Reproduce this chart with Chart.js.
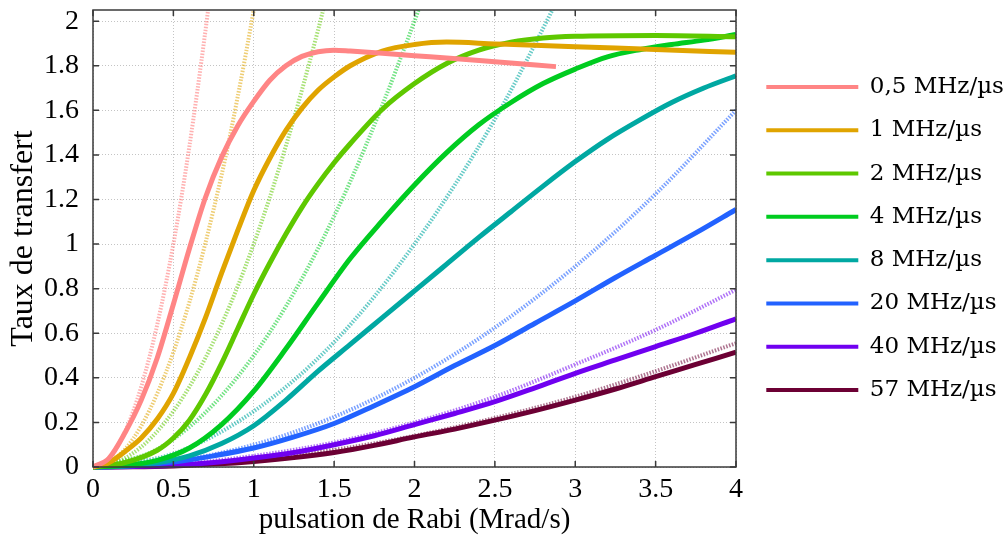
<!DOCTYPE html>
<html>
<head>
<meta charset="utf-8">
<script src="https://cdn.jsdelivr.net/npm/chart.js@4.4.1/dist/chart.umd.min.js"></script>
<style>
  html, body { margin: 0; padding: 0; background: #fff; }
</style>
</head>
<body>
<canvas id="rabiChart" width="1006" height="542"></canvas>
<script>
// sweep rates (legend)
const rateLabels = ['0,5 MHz/µs', '1 MHz/µs', '2 MHz/µs', '4 MHz/µs', '8 MHz/µs', '20 MHz/µs', '40 MHz/µs', '57 MHz/µs'];

// axis ticks
const xTicks = [0, 0.5, 1, 1.5, 2, 2.5, 3, 3.5, 4];
const yTicks = [0, 0.2, 0.4, 0.6, 0.8, 1, 1.2, 1.4, 1.6, 1.8, 2];

// solid curves: transfer rate vs Rabi pulsation
const x05 = [0, 0.1, 0.2, 0.3, 0.4, 0.5, 0.6, 0.7, 0.8, 0.9, 1.0, 1.1, 1.2, 1.3, 1.4, 1.5, 1.6, 1.8, 2.0, 2.2, 2.5, 2.88];
const y05 = [0, 0.04, 0.155, 0.30, 0.49, 0.73, 0.98, 1.21, 1.39, 1.53, 1.64, 1.735, 1.80, 1.842, 1.863, 1.87, 1.866, 1.856, 1.845, 1.835, 1.818, 1.796];

const x1 = [0, 0.1, 0.2, 0.3, 0.4, 0.5, 0.6, 0.7, 0.8, 0.9, 1.0, 1.1, 1.2, 1.3, 1.4, 1.5, 1.6, 1.8, 2.0, 2.2, 2.5, 3.0, 3.5, 4.0];
const y1 = [0, 0.02, 0.07, 0.13, 0.215, 0.33, 0.49, 0.67, 0.87, 1.06, 1.24, 1.385, 1.51, 1.61, 1.69, 1.75, 1.80, 1.866, 1.895, 1.906, 1.898, 1.885, 1.873, 1.86];

const x2 = [0, 0.2, 0.4, 0.5, 0.6, 0.7, 0.8, 0.9, 1.0, 1.1, 1.2, 1.3, 1.4, 1.5, 1.6, 1.8, 2.0, 2.2, 2.4, 2.6, 2.8, 3.0, 3.5, 4.0];
const y2 = [0, 0.02, 0.075, 0.13, 0.21, 0.325, 0.465, 0.62, 0.775, 0.915, 1.045, 1.165, 1.27, 1.365, 1.45, 1.605, 1.72, 1.81, 1.87, 1.905, 1.924, 1.932, 1.936, 1.93];

const x4 = [0, 0.2, 0.4, 0.6, 0.8, 1.0, 1.2, 1.4, 1.6, 1.8, 2.0, 2.2, 2.4, 2.6, 2.8, 3.0, 3.2, 3.4, 3.6, 3.8, 4.0];
const y4 = [0, 0.008, 0.03, 0.085, 0.19, 0.34, 0.53, 0.735, 0.935, 1.105, 1.265, 1.41, 1.535, 1.635, 1.72, 1.785, 1.84, 1.872, 1.895, 1.915, 1.94];

const x8 = [0, 0.2, 0.4, 0.6, 0.8, 1.0, 1.2, 1.4, 1.6, 1.8, 2.0, 2.2, 2.4, 2.6, 2.8, 3.0, 3.2, 3.4, 3.6, 3.8, 4.0];
const y8 = [0, 0.005, 0.02, 0.05, 0.105, 0.185, 0.30, 0.43, 0.55, 0.67, 0.79, 0.91, 1.03, 1.145, 1.26, 1.37, 1.47, 1.556, 1.635, 1.70, 1.755];

const xHigh = [0, 0.25, 0.5, 0.75, 1.0, 1.25, 1.5, 1.75, 2.0, 2.25, 2.5, 2.75, 3.0, 3.25, 3.5, 3.75, 4.0];
const y20 = [0, 0.006, 0.022, 0.05, 0.085, 0.135, 0.195, 0.275, 0.36, 0.455, 0.545, 0.645, 0.745, 0.85, 0.95, 1.05, 1.155];
const y40 = [0, 0.002, 0.008, 0.02, 0.04, 0.065, 0.10, 0.14, 0.19, 0.24, 0.293, 0.355, 0.42, 0.48, 0.54, 0.60, 0.665];
const y57 = [0, 0.001, 0.005, 0.013, 0.025, 0.042, 0.065, 0.097, 0.135, 0.17, 0.21, 0.253, 0.30, 0.35, 0.405, 0.46, 0.515];

// dotted curves (low-pulsation approximation)
const x05d = [0, 0.1, 0.2, 0.3, 0.4, 0.5, 0.6, 0.7, 0.75];
const y05d = [0, 0.04, 0.16, 0.36, 0.64, 1.0, 1.44, 1.96, 2.25];
const x1d = [0, 0.2, 0.4, 0.6, 0.8, 0.9, 1.0, 1.06];
const y1d = [0, 0.08, 0.33, 0.74, 1.31, 1.66, 2.05, 2.3];
const x2d = [0, 0.2, 0.4, 0.6, 0.8, 1.0, 1.2, 1.4, 1.5];
const y2d = [0, 0.04, 0.16, 0.36, 0.64, 1.0, 1.44, 1.96, 2.25];
const x4d = [0, 0.4, 0.8, 1.2, 1.6, 2.0, 2.12];
const y4d = [0, 0.08, 0.32, 0.72, 1.28, 2.0, 2.25];
const x8d = [0, 0.5, 1.0, 1.5, 2.0, 2.5, 3.0];
const y8d = [0, 0.06, 0.25, 0.56, 1.0, 1.56, 2.25];
const xHighd = [0, 0.5, 1.0, 1.5, 2.0, 2.5, 3.0, 3.5, 4.0];
const y20d = [0, 0.025, 0.1, 0.225, 0.4, 0.625, 0.9, 1.225, 1.6];
const y40d = [0, 0.012, 0.05, 0.11, 0.2, 0.315, 0.46, 0.615, 0.795];
const y57d = [0, 0.008, 0.035, 0.077, 0.14, 0.22, 0.315, 0.43, 0.555];

const solidColors = ['#ff8585', '#e0a400', '#5ec800', '#00cc20', '#00a8a2', '#2262ff', '#7000f0', '#6c0034'];
const dotColors = ['rgba(255,133,133,0.65)', 'rgba(224,164,0,0.55)', 'rgba(94,200,0,0.55)', 'rgba(0,204,32,0.55)',
                   'rgba(0,168,162,0.6)', 'rgba(34,98,255,0.6)', 'rgba(112,0,240,0.55)', 'rgba(108,0,52,0.55)'];

const pts = (xs, ys) => xs.map((x, i) => ({x: x, y: ys[i]}));

const solidData = [pts(x05, y05), pts(x1, y1), pts(x2, y2), pts(x4, y4), pts(x8, y8),
                   pts(xHigh, y20), pts(xHigh, y40), pts(xHigh, y57)];
const dotData = [pts(x05d, y05d), pts(x1d, y1d), pts(x2d, y2d), pts(x4d, y4d), pts(x8d, y8d),
                 pts(xHighd, y20d), pts(xHighd, y40d), pts(xHighd, y57d)];

const clipArea = {left: 0, top: 0, right: 0, bottom: 3};

const datasets = [];
solidData.forEach((d, i) => {
    datasets.push({
        label: rateLabels[i],
        data: d,
        borderColor: solidColors[i],
        backgroundColor: solidColors[i],
        borderWidth: 5,
        pointRadius: 0,
        cubicInterpolationMode: 'monotone',
        clip: clipArea
    });
});
dotData.forEach((d, i) => {
    datasets.push({
        label: rateLabels[i] + ' (approx.)',
        data: d,
        borderColor: dotColors[i],
        borderWidth: 4,
        borderDash: [1.5, 1.5],
        pointRadius: 0,
        cubicInterpolationMode: 'monotone',
        clip: clipArea
    });
});

// box around the plot with inward ticks on all four sides
const framePlugin = {
    id: 'frame',
    afterDraw(chart) {
        const ctx = chart.ctx;
        const a = chart.chartArea;
        const xs = chart.scales.x, ys = chart.scales.y;
        ctx.save();
        ctx.strokeStyle = '#3a3a3a';
        ctx.lineWidth = 1.5;
        ctx.strokeRect(a.left, a.top, a.right - a.left, a.bottom - a.top);
        ctx.beginPath();
        xs.ticks.forEach(t => {
            const px = xs.getPixelForValue(t.value);
            ctx.moveTo(px, a.bottom); ctx.lineTo(px, a.bottom - 6);
            ctx.moveTo(px, a.top); ctx.lineTo(px, a.top + 6);
        });
        ys.ticks.forEach(t => {
            const py = ys.getPixelForValue(t.value);
            ctx.moveTo(a.left, py); ctx.lineTo(a.left + 6, py);
            ctx.moveTo(a.right, py); ctx.lineTo(a.right - 6, py);
        });
        ctx.stroke();
        ctx.restore();
    }
};

const tickFont = {family: 'Liberation Serif', size: 28};
const fmt = v => String(Math.round(v * 10) / 10);
const noPad = s => { s.paddingTop = 0; s.paddingBottom = 0; s.paddingLeft = 0; s.paddingRight = 0; };

new Chart(document.getElementById('rabiChart'), {
    type: 'line',
    data: {datasets: datasets},
    plugins: [framePlugin],
    options: {
        responsive: false,
        animation: false,
        devicePixelRatio: 1,
        layout: {padding: {top: 10, left: 0, right: 0, bottom: 0}},
        scales: {
            x: {
                type: 'linear',
                min: 0,
                max: 4,
                ticks: {color: '#000', font: tickFont, padding: 6, callback: fmt},
                afterBuildTicks(s) { s.ticks = xTicks.map(v => ({value: v})); },
                grid: {color: '#c4c4c4', drawTicks: false},
                border: {display: false, dash: [1, 2]},
                title: {display: true, text: 'pulsation de Rabi (Mrad/s)', color: '#000',
                        font: {family: 'Liberation Serif', size: 29}, padding: {top: 0, bottom: 4}},
                afterFit(s) { s.height = 75; noPad(s); }
            },
            y: {
                type: 'linear',
                min: 0,
                max: 2.05,
                ticks: {color: '#000', font: tickFont, padding: 14, callback: fmt},
                afterBuildTicks(s) { s.ticks = yTicks.map(v => ({value: v})); },
                grid: {color: '#c4c4c4', drawTicks: false},
                border: {display: false, dash: [1, 2]},
                title: {display: true, text: 'Taux de transfert', color: '#000',
                        font: {family: 'Liberation Serif', size: 32}, padding: {top: 4, bottom: 0}},
                afterFit(s) { s.width = 93; noPad(s); }
            },
            // empty spacer between plot and legend
            yr: {
                type: 'linear',
                position: 'right',
                grid: {display: false, drawTicks: false},
                border: {display: false},
                ticks: {display: false},
                afterFit(s) { s.width = 10; noPad(s); }
            }
        },
        plugins: {
            legend: {
                position: 'right',
                align: 'center',
                fullSize: false,
                maxWidth: 260,
                labels: {
                    usePointStyle: true,
                    pointStyle: 'line',
                    pointStyleWidth: 92,
                    boxWidth: 92,
                    padding: 20.3,
                    color: '#000',
                    font: {family: 'DejaVu Serif', size: 23},
                    generateLabels: chart => Chart.defaults.plugins.legend.labels.generateLabels(chart)
                        .filter(l => l.datasetIndex < 8)
                        .map(l => Object.assign(l, {lineWidth: 4}))
                }
            },
            tooltip: {enabled: false}
        }
    }
});
</script>
</body>
</html>
